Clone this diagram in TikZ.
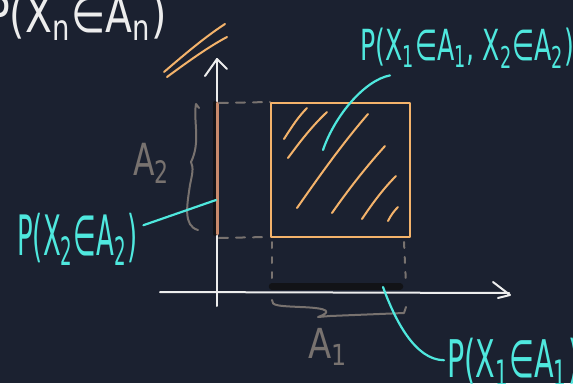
\documentclass[tikz,border=0pt]{standalone}
\usepackage{fontspec}
\setmainfont{DejaVu Sans}
\usepackage{graphicx}
\definecolor{bg}{HTML}{1B2130}
\definecolor{axw}{HTML}{EDEDED}
\definecolor{orng}{HTML}{F4B36B}
\definecolor{cyn}{HTML}{4FE8DE}
\definecolor{gry}{HTML}{78726F}
\definecolor{brn}{HTML}{C98A6C}
\definecolor{blk}{HTML}{121317}
\begin{document}
\begin{tikzpicture}[x=1pt,y=-1pt,line cap=round,line join=round,
  axisline/.style={draw=axw,line width=2pt},
  hatchline/.style={draw=orng,line width=2pt},
  graydash/.style={draw=gry,line width=2pt,dash pattern=on 9pt off 8pt},
  graydot/.style={draw=gry,line width=2pt,dash pattern=on 6pt off 9pt},
  graybrace/.style={draw=gry,line width=2pt},
  conn/.style={draw=cyn,line width=2.2pt},
  lbl/.style={inner sep=0pt,anchor=north west}]
\fill[bg] (0,0) rectangle (573,383);
\useasboundingbox (0,0) rectangle (573,383);

% title
\node[lbl,text=axw] (title) at (-14,-6) {\resizebox*{181pt}{46pt}{P(X\textsubscript{n}∈A\textsubscript{n})}};

% double slash
\draw[hatchline] (164,72) .. controls (185,54) and (205,37) .. (225,24);
\draw[hatchline] (167,77) .. controls (190,60) and (210,46) .. (227,37);

% axes
\draw[axisline] (217,306) -- (217,59);
\draw[axisline] (205,76) -- (217,59) -- (227,69);
\draw[axisline] (160,292) -- (509,293);
\draw[axisline] (493,282) -- (510,295) -- (498,298);

% marginal segments
\draw[line width=4pt,draw=blk] (215,103) -- (215,234);
\draw[line width=2.6pt,draw=brn] (217.5,103) -- (217.5,234);
\draw[line width=6.5pt,draw=blk] (272,286.5) -- (400,286.5);

% dashed projections
\draw[graydash] (219,103) -- (270,102);
\draw[graydash] (219,238) -- (266,237);
\draw[graydot] (272,242) -- (272,284);
\draw[graydot] (404,242) -- (406,284);

% rectangle
\node[draw=orng,line width=2pt,minimum width=139pt,minimum height=134pt,inner sep=0pt,anchor=north west] (region) at (270,102) {};

% hatching
\draw[hatchline] (284,139) .. controls (291,128) and (298,117) .. (307,108);
\draw[hatchline] (288,158) .. controls (299,143) and (312,126) .. (327,112);
\draw[hatchline] (297,208) .. controls (318,178) and (342,144) .. (368,114);
\draw[hatchline] (332,213) .. controls (348,190) and (366,167) .. (385,146);
\draw[hatchline] (362,219) .. controls (372,204) and (383,189) .. (396,176);
\draw[hatchline] (388,221) .. controls (391,215) and (394,211) .. (398,207);

% braces
\draw[graybrace] (199,108) -- (196,104) .. controls (193,120) and (201,142) .. (191,162)
  .. controls (194,168) and (192,175) .. (190,185) .. controls (187,205) and (183,226) .. (198,230);
\draw[graybrace] (272,300) .. controls (271,306) and (280,306) .. (300,307)
  .. controls (330,308) and (332,312) .. (318,317) -- (330,316) -- (404,313) -- (406,307);

% gray labels
\node[lbl,text=gry] (a2) at (133,143) {\resizebox*{37pt}{40pt}{A\textsubscript{2}}};
\node[lbl,text=gry] (a1) at (308,328) {\resizebox*{40pt}{37pt}{A\textsubscript{1}}};

% cyan labels
\node[lbl,text=cyn] (joint) at (360,28) {\resizebox*{214pt}{40pt}{P(X\textsubscript{1}∈A\textsubscript{1}, X\textsubscript{2}∈A\textsubscript{2})}};
\node[lbl,text=cyn] (px2) at (17,213) {\resizebox*{120pt}{52pt}{P(X\textsubscript{2}∈A\textsubscript{2})}};
\node[lbl,text=cyn] (px1) at (447,338) {\resizebox*{132pt}{48pt}{P(X\textsubscript{1}∈A\textsubscript{1})}};

% connectors
\coordinate (inrect) at (323,150);
\coordinate (onaxis) at (216,200);
\coordinate (onseg) at (383,287);
\draw[conn] ([xshift=30pt,yshift=-7pt]joint.south west) .. controls (365,80) and (335,115) .. (inrect);
\draw[conn] ([xshift=6pt,yshift=14pt]px2.east) -- (onaxis);
\draw[conn] (onseg) .. controls (395,320) and (415,360) .. ([xshift=-3pt,yshift=2pt]px1.west);
\end{tikzpicture}
\end{document}
